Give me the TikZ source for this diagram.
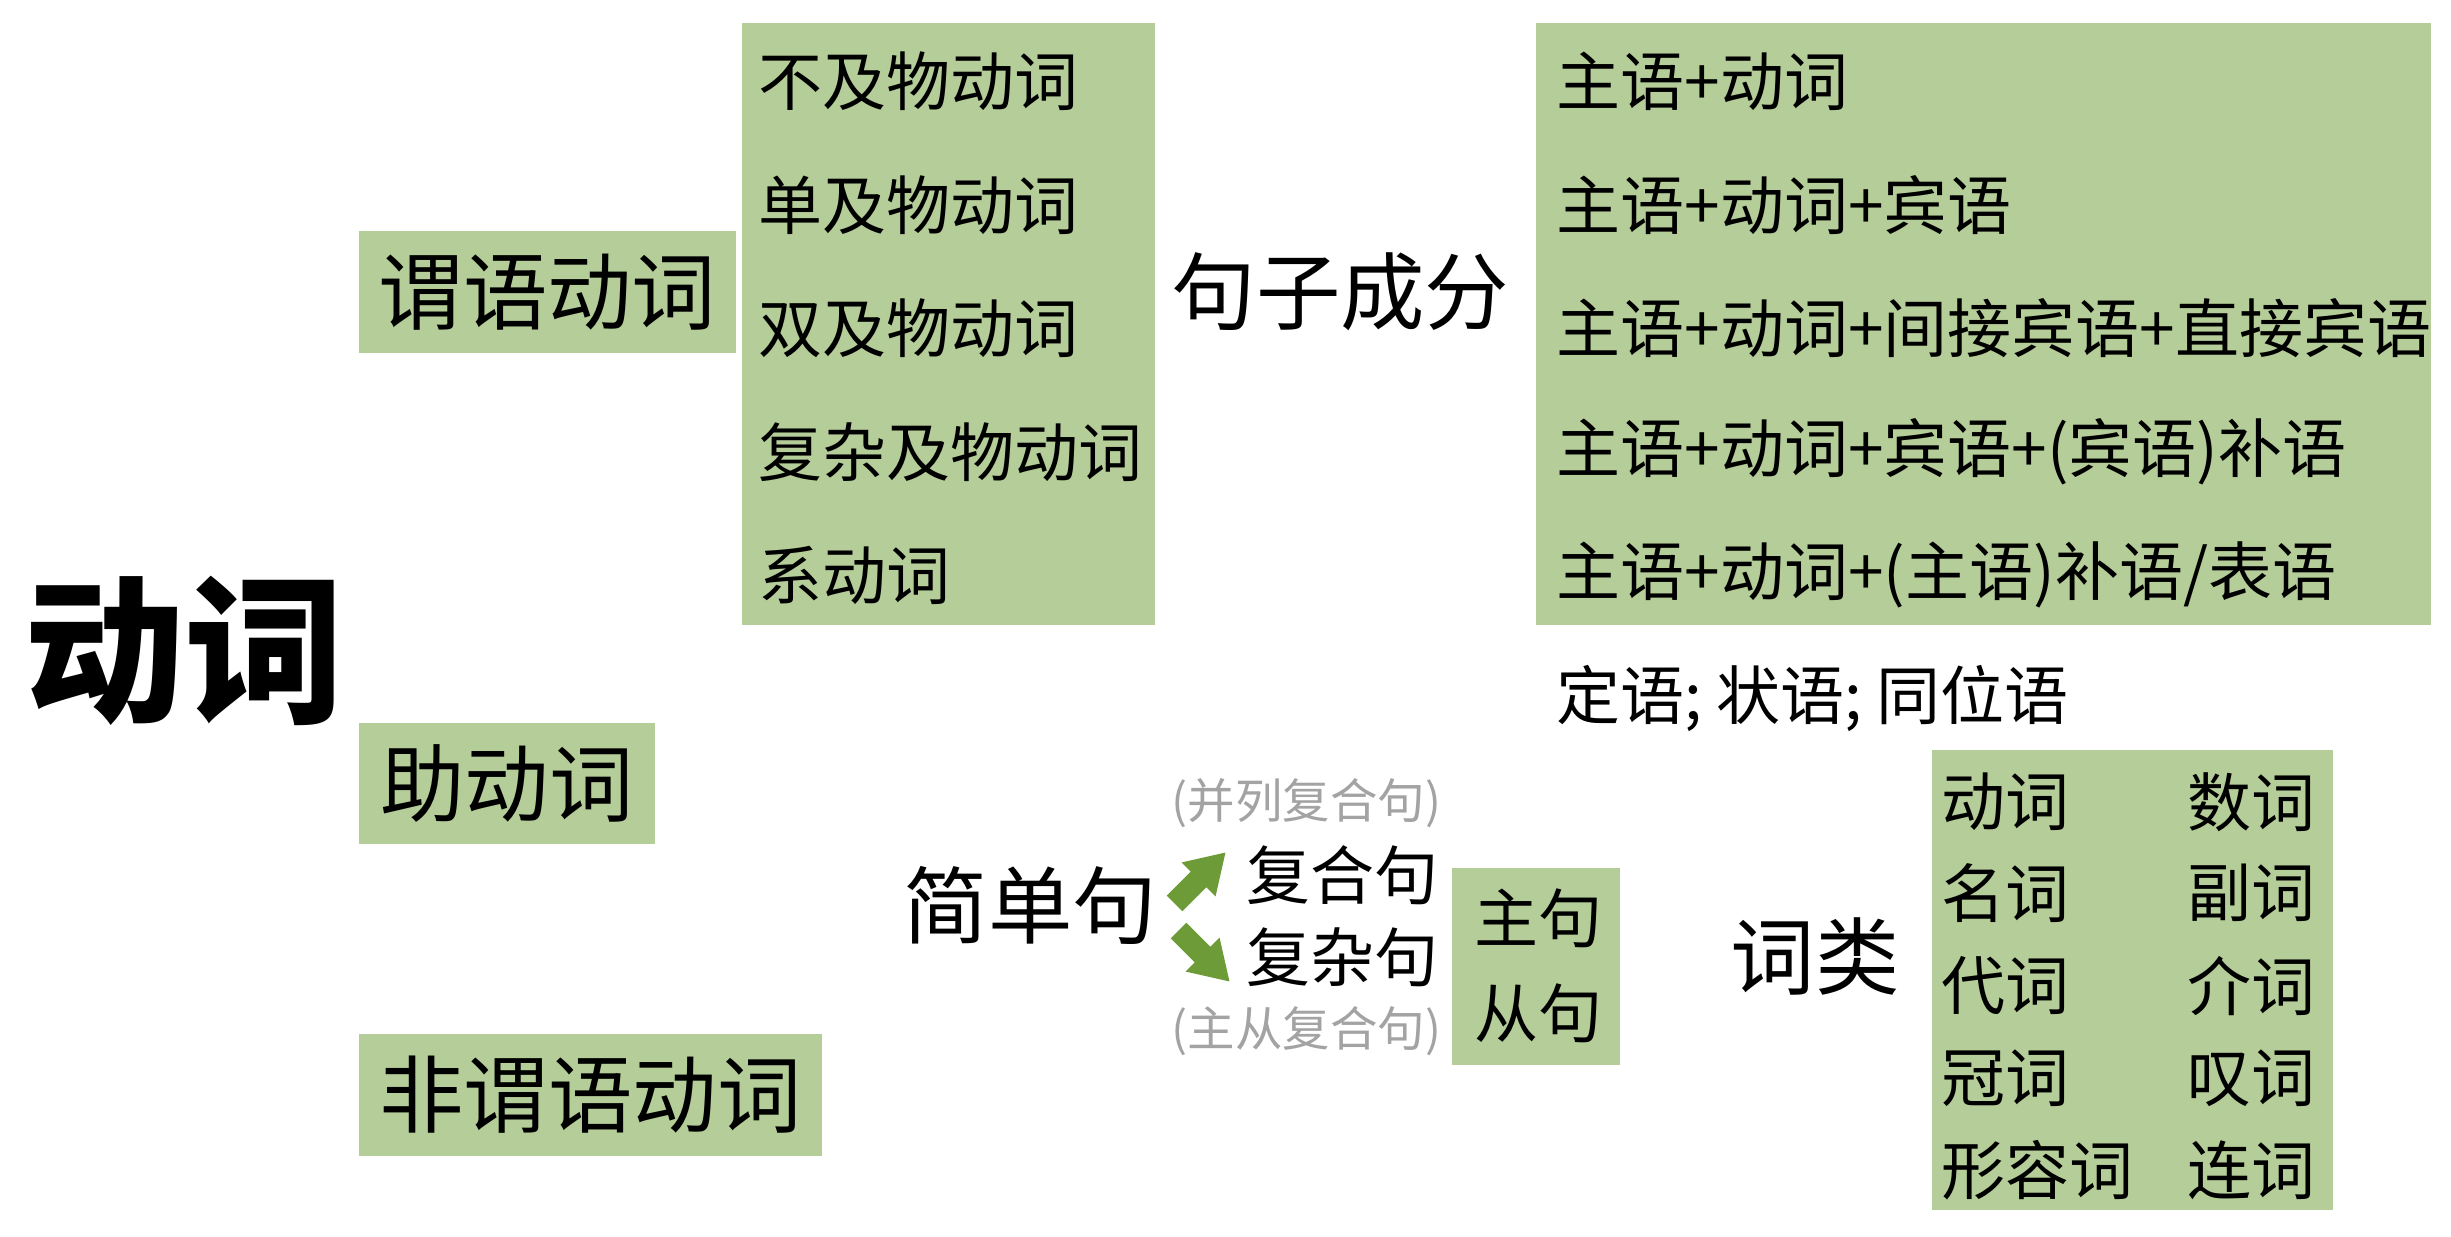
\documentclass[tikz,border=0pt]{standalone}
\usepackage{fontspec}
\setmainfont{Noto Sans CJK SC}
\definecolor{boxgreen}{HTML}{B5CD98}
\definecolor{arrowgreen}{HTML}{6C9B37}
\definecolor{graytext}{HTML}{A3A3A3}
\begin{document}
\begin{tikzpicture}[x=0.01cm,y=-0.01cm,
  gbox/.style={fill=boxgreen, inner sep=0, outer sep=0},
  lg/.style={font=\fontsize{24}{28}\selectfont},
  lgt/.style={font=\fontsize{24}{28}\selectfont, inner sep=0, anchor=west},
  sm/.style={font=\fontsize{18.2}{22}\selectfont, inner sep=0, anchor=west},
  sme/.style={font=\fontsize{18.2}{22}\selectfont, inner sep=0, anchor=east},
  note/.style={font=\fontsize{13.5}{16}\selectfont, text=graytext, inner sep=0, anchor=west},
  garrow/.style={fill=arrowgreen}]
\useasboundingbox (0,0) rectangle (2451,1237);

% title
\node[font=\bfseries\fontsize{45.5}{52}\selectfont, inner sep=0, anchor=west] (title) at (24,651) {动词};

% left column boxes
\node[gbox, lg, minimum width=3.77cm, minimum height=1.22cm] (weiyu) at (547.5,292) {谓语动词};
\node[gbox, lg, minimum width=2.96cm, minimum height=1.21cm] (zhu) at (507,783.5) {助动词};
\node[gbox, lg, minimum width=4.63cm, minimum height=1.22cm] (feiweiyu) at (590.5,1095) {非谓语动词};

% verb kinds
\node[gbox, minimum width=4.13cm, minimum height=6.02cm] (listbox) at (948.5,324) {};
\node[sm] (v1) at (758,81) {不及物动词};
\node[sm] (v2) at (758,205) {单及物动词};
\node[sm] (v3) at (758,328) {双及物动词};
\node[sm] (v4) at (758,452) {复杂及物动词};
\node[sm] (v5) at (758,575) {系动词};

% sentence elements
\node[lgt] (juzi) at (1171,292) {句子成分};
\node[gbox, minimum width=8.95cm, minimum height=6.02cm] (patbox) at (1983.5,324) {};
\node[sm] (p1) at (1556,81) {主语+动词};
\node[sm] (p2) at (1556,205) {主语+动词+宾语};
\node[sm] (p3) at (1556,328) {主语+动词+间接宾语+直接宾语};
\node[sm] (p4) at (1556,452) {主语+动词+宾语+(宾语)补语};
\node[sm] (p5) at (1556,575) {主语+动词+(主语)补语/表语};
\node[sm] (other) at (1556,698) {定语; 状语; 同位语};

% sentence types
\node[lgt] (jiandan) at (903,906) {简单句};
\coordinate (upc) at (1200,878);
\coordinate (dnc) at (1204,956);
\fill[garrow, shift={(upc)}, rotate=45] (-36,-11) -- (-2,-11) -- (-2,-24) -- (36,0) -- (-2,24) -- (-2,11) -- (-36,11) -- cycle;
\fill[garrow, shift={(dnc)}, rotate=-45] (-36,-11) -- (-2,-11) -- (-2,-24) -- (36,0) -- (-2,24) -- (-2,11) -- (-36,11) -- cycle;
\node[note] (binglie) at (1171,803) {(并列复合句)};
\node[sm] (fuhe) at (1246,875) {复合句};
\node[sm] (fuza) at (1246,957) {复杂句};
\node[note] (zhucong) at (1171,1031) {(主从复合句)};
\node[gbox, minimum width=1.68cm, minimum height=1.97cm] (zjbox) at (1536,966.5) {};
\node[sm] (zhuju) at (1474,918) {主句};
\node[sm] (congju) at (1474,1013) {从句};

% word classes
\node[lgt] (cilei) at (1730,956) {词类};
\node[gbox, minimum width=4.01cm, minimum height=4.60cm] (clbox) at (2132.5,980) {};
\node[sm] (c1) at (1941,802) {动词};
\node[sm] (c2) at (1941,893) {名词};
\node[sm] (c3) at (1941,986) {代词};
\node[sm] (c4) at (1941,1078) {冠词};
\node[sm] (c5) at (1941,1170) {形容词};
\node[sme] (d1) at (2316,802) {数词};
\node[sme] (d2) at (2316,893) {副词};
\node[sme] (d3) at (2316,986) {介词};
\node[sme] (d4) at (2316,1078) {叹词};
\node[sme] (d5) at (2316,1170) {连词};
\end{tikzpicture}
\end{document}
